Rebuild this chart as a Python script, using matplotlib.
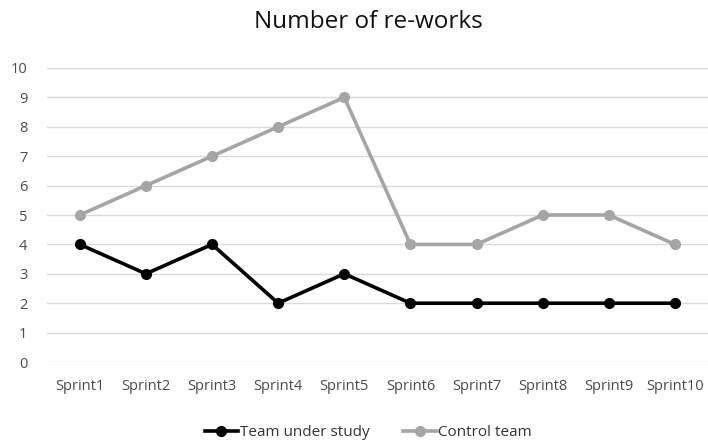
import matplotlib.pyplot as plt
from matplotlib import font_manager

sprints = ['Sprint1', 'Sprint2', 'Sprint3', 'Sprint4', 'Sprint5',
           'Sprint6', 'Sprint7', 'Sprint8', 'Sprint9', 'Sprint10']
team_under_study = [4, 3, 4, 2, 3, 2, 2, 2, 2, 2]
control_team = [5, 6, 7, 8, 9, 4, 4, 5, 5, 4]
y_ticks = list(range(0, 11))

names = {f.name for f in font_manager.fontManager.ttflist}
if 'Liberation Sans Narrow' in names:
    plt.rcParams['font.family'] = ['Liberation Sans Narrow', 'DejaVu Sans']
else:
    plt.rcParams['font.family'] = ['Open Sans', 'DejaVu Sans']

fig = plt.figure(figsize=(7.08, 4.45), dpi=100)
ax = fig.add_axes([0.066, 0.1865, 0.934, 0.6607])

x = list(range(len(sprints)))
ax.plot(x, team_under_study, color='black', lw=2.6, marker='o', markersize=7,
        label='Team under study', zorder=3)
ax.plot(x, control_team, color='#a5a5a5', lw=2.6, marker='o', markersize=7,
        label='Control team', zorder=3)

ax.set_xlim(-0.5, len(sprints) - 0.5)
ax.set_ylim(0, 10)
ax.set_yticks(y_ticks)
ax.set_xticks(x)
ax.set_xticklabels(sprints)
ax.tick_params(axis='both', length=0, labelsize=10.5, colors='#4a4a4a')
ax.tick_params(axis='x', pad=12)
ax.tick_params(axis='y', pad=14)
ax.grid(axis='y', color='#d9d9d9', lw=1)
ax.set_axisbelow(True)
for s in ax.spines.values():
    s.set_visible(False)

fig.text(0.52, 0.95, 'Number of re-works', ha='center', va='center',
         fontsize=17.5, color='#111111')

fig.legend(loc='center', bbox_to_anchor=(0.52, 0.027), ncol=2, frameon=False,
           fontsize=11, handlelength=2.2, handletextpad=0.1, columnspacing=2.2,
           labelcolor='#333333')

fig.savefig('out.png', dpi=100)
